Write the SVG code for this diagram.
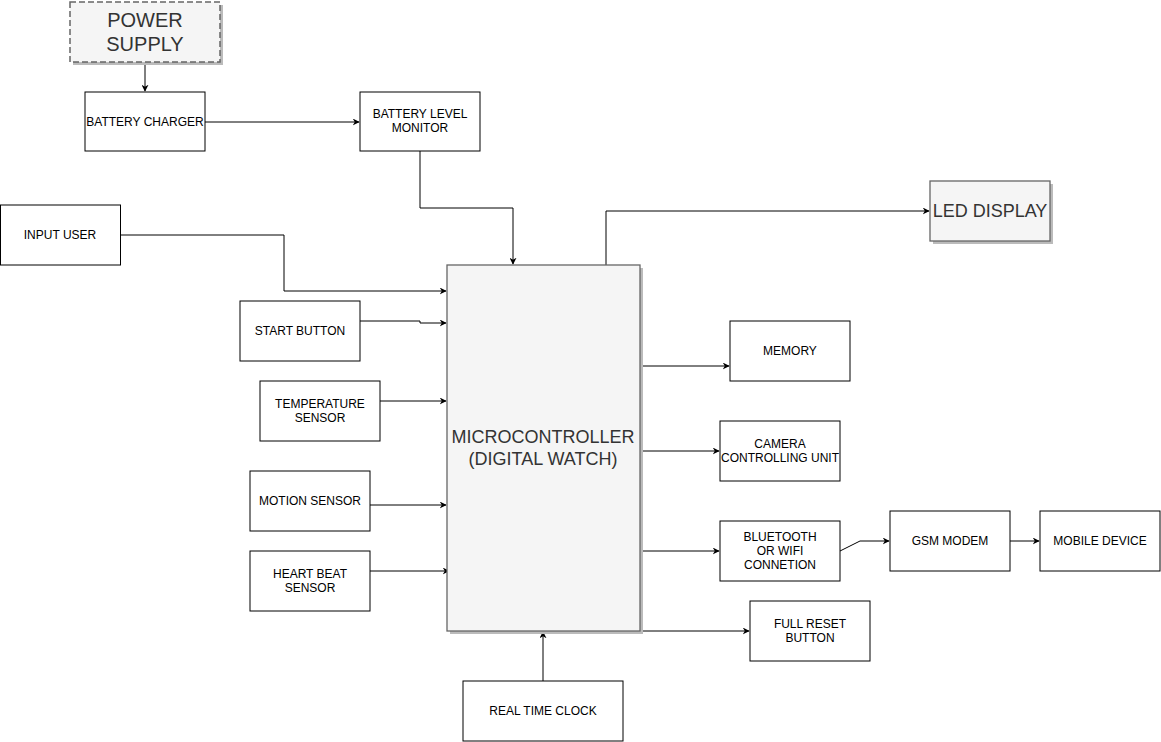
<svg xmlns="http://www.w3.org/2000/svg" width="1161" height="742" viewBox="0 0 1161 742">
<defs>
<marker id="ah" viewBox="0 0 10 10" refX="9" refY="5" markerWidth="7" markerHeight="7" orient="auto" markerUnits="userSpaceOnUse"><path d="M0,0 L10,5 L0,10 L3,5 Z" fill="#000"/></marker>
<style>
.b{fill:#fff;stroke:#000;stroke-width:1}
.g{fill:#f5f5f5;stroke:#666;stroke-width:1.3}
.sh{fill:#bbb}
.t{font-family:"Liberation Sans",Arial,sans-serif;font-size:12px;fill:#000;text-anchor:middle}
.tl{font-family:"Liberation Sans",Arial,sans-serif;fill:#333;text-anchor:middle}
.c{fill:none;stroke:#000;stroke-width:1;marker-end:url(#ah)}
</style>
</defs>
<rect width="1161" height="742" fill="#fff"/>
<g id="connectors">
<path class="c" d="M145,62 V91"/>
<path class="c" d="M205,122 H359"/>
<path class="c" d="M420,151 V208 H513 V264"/>
<path class="c" d="M120,235 H284 V291 H446"/>
<path class="c" d="M360,321 H420 V323 H446"/>
<path class="c" d="M380,401 H446"/>
<path class="c" d="M370,505 H446"/>
<path class="c" d="M370,571 H449"/>
<path class="c" d="M606,265 V211 H929"/>
<path class="c" d="M640,366 H729"/>
<path class="c" d="M640,451 H719"/>
<path class="c" d="M640,551 H719"/>
<path class="c" d="M840,551 L860,541 H889"/>
<path class="c" d="M1010,541 H1039"/>
<path class="c" d="M640,631 H749"/>
<path class="c" d="M543,681 V632"/>
</g>
<g id="power-supply">
<rect class="sh" x="73" y="5" width="150" height="60"/>
<rect x="70" y="2" width="150" height="60" fill="#f5f5f5" stroke="#666" stroke-width="1.5" stroke-dasharray="6,3"/>
<text class="tl" font-size="20" x="145" y="27">POWER</text>
<text class="tl" font-size="20" x="145" y="51">SUPPLY</text>
</g>
<g id="battery-charger">
<rect class="b" x="85" y="92" width="120" height="59"/>
<text class="t" x="145" y="126">BATTERY CHARGER</text>
</g>
<g id="battery-level-monitor">
<rect class="b" x="360" y="92" width="120" height="59"/>
<text class="t" x="420" y="118">BATTERY LEVEL</text>
<text class="t" x="420" y="132">MONITOR</text>
</g>
<g id="led-display">
<rect class="sh" x="933" y="184" width="120" height="60"/>
<rect class="g" x="930" y="181" width="120" height="60"/>
<text class="tl" font-size="18" x="990" y="217">LED DISPLAY</text>
</g>
<g id="input-user">
<rect class="b" x="0.5" y="205" width="120" height="60"/>
<text class="t" x="60" y="239">INPUT USER</text>
</g>
<g id="start-button">
<rect class="b" x="240" y="301" width="120" height="60"/>
<text class="t" x="300" y="335">START BUTTON</text>
</g>
<g id="temperature-sensor">
<rect class="b" x="260" y="381" width="120" height="60"/>
<text class="t" x="320" y="408">TEMPERATURE</text>
<text class="t" x="320" y="422">SENSOR</text>
</g>
<g id="motion-sensor">
<rect class="b" x="250" y="471" width="120" height="60"/>
<text class="t" x="310" y="505">MOTION SENSOR</text>
</g>
<g id="heart-beat-sensor">
<rect class="b" x="250" y="551" width="120" height="60"/>
<text class="t" x="310" y="578">HEART BEAT</text>
<text class="t" x="310" y="592">SENSOR</text>
</g>
<g id="microcontroller">
<rect class="sh" x="450" y="268" width="193" height="366"/>
<rect class="g" x="447" y="265" width="193" height="366"/>
<text class="tl" font-size="18" x="543" y="443">MICROCONTROLLER</text>
<text class="tl" font-size="18" x="543" y="465">(DIGITAL WATCH)</text>
</g>
<g id="memory">
<rect class="b" x="730" y="321" width="120" height="60"/>
<text class="t" x="790" y="355">MEMORY</text>
</g>
<g id="camera-controlling-unit">
<rect class="b" x="720" y="421" width="120" height="60"/>
<text class="t" x="780" y="448">CAMERA</text>
<text class="t" x="780" y="462">CONTROLLING UNIT</text>
</g>
<g id="bluetooth">
<rect class="b" x="720" y="521" width="120" height="60"/>
<text class="t" x="780" y="541">BLUETOOTH</text>
<text class="t" x="780" y="555">OR WIFI</text>
<text class="t" x="780" y="569">CONNETION</text>
</g>
<g id="gsm-modem">
<rect class="b" x="890" y="511" width="120" height="60"/>
<text class="t" x="950" y="545">GSM MODEM</text>
</g>
<g id="mobile-device">
<rect class="b" x="1040" y="511" width="120" height="60"/>
<text class="t" x="1100" y="545">MOBILE DEVICE</text>
</g>
<g id="full-reset-button">
<rect class="b" x="750" y="601" width="120" height="60"/>
<text class="t" x="810" y="628">FULL RESET</text>
<text class="t" x="810" y="642">BUTTON</text>
</g>
<g id="real-time-clock">
<rect class="b" x="463" y="681" width="160" height="60"/>
<text class="t" x="543" y="715">REAL TIME CLOCK</text>
</g>
</svg>
